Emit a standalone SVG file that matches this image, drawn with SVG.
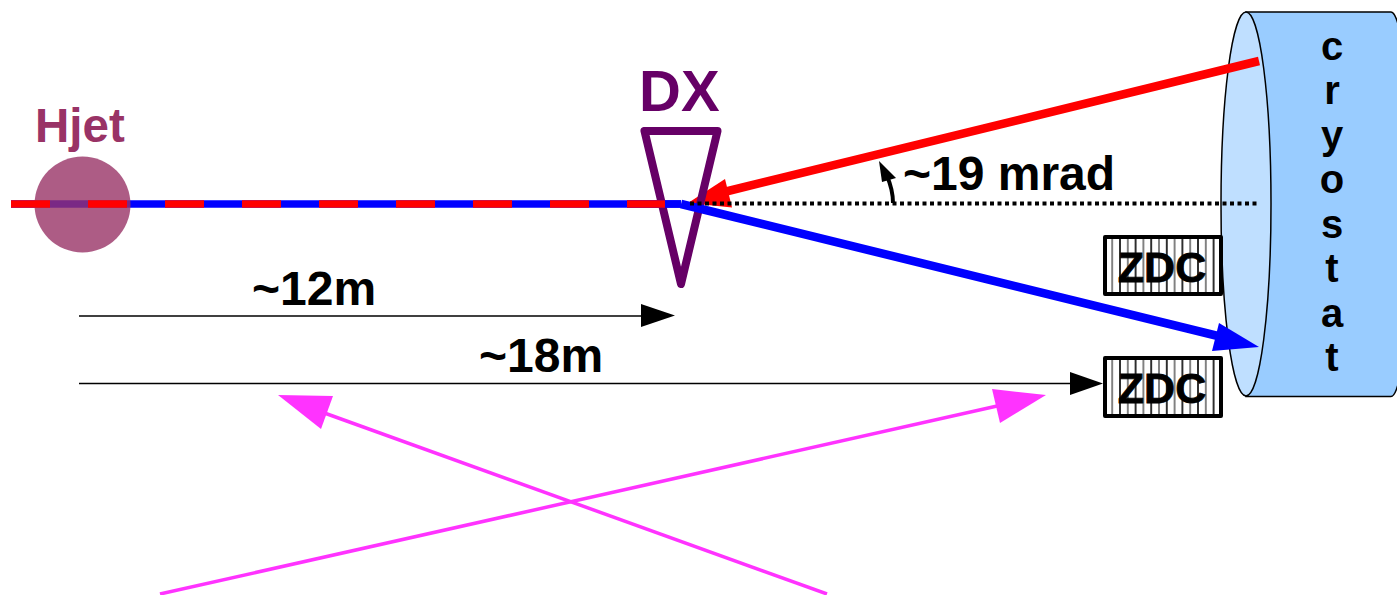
<svg xmlns="http://www.w3.org/2000/svg" width="1397" height="595" viewBox="0 0 1397 595">
<defs>
<style>
text{font-family:"Liberation Sans",Arial,sans-serif;font-weight:bold}
.lab{font-size:48px;fill:#000}
.cry{font-size:40px;fill:#000;text-anchor:middle}
.zdc{font-size:43px;fill:#000;text-anchor:middle;stroke:#000;stroke-width:.8}
.box{fill:none;stroke:#000;stroke-width:4;stroke-linejoin:round}
.thin{stroke:#000;stroke-width:1.3;fill:none}
.mag{stroke:#ff33ff;stroke-width:3.5;fill:none}
</style>
<pattern id="hatch" x="1104.4" y="0" width="15.6" height="20" patternUnits="userSpaceOnUse">
<rect x="7" width="1.6" height="20" fill="#666"/>
<rect x="14.8" width="0.8" height="20" fill="#000"/>
<rect x="0" width="0.8" height="20" fill="#000"/>
</pattern>
</defs>
<g id="cryostat">
<path d="M1246 12H1391A20 192 0 0 1 1391 396.5H1246Z" fill="#99ccff" stroke="#000" stroke-width="1.5"/>
<ellipse cx="1246" cy="204" rx="25" ry="192" fill="#bfdfff" stroke="#000" stroke-width="1.5"/>
<text class="cry" x="1332" y="59.5">c</text>
<text class="cry" x="1332" y="104">r</text>
<text class="cry" x="1332" y="149">y</text>
<text class="cry" x="1332" y="193">o</text>
<text class="cry" x="1332" y="238">s</text>
<text class="cry" x="1332" y="282">t</text>
<text class="cry" x="1332" y="327">a</text>
<text class="cry" x="1332" y="371">t</text>
</g>
<g id="zdc-top">
<rect x="1105" y="237" width="116" height="57" fill="url(#hatch)"/>
<rect class="box" x="1105" y="237" width="116" height="57"/>
<text class="zdc" x="1162" y="281.5">ZDC</text>
</g>
<g id="zdc-bottom">
<rect x="1105" y="358" width="116" height="58" fill="url(#hatch)"/>
<rect class="box" x="1105" y="358" width="116" height="58"/>
<text class="zdc" x="1162" y="402.5">ZDC</text>
</g>
<g id="connectors">
<line x1="11" y1="204" x2="681" y2="204" stroke="#0000ff" stroke-width="7.5"/>
<path d="M1259 61L720 193" stroke="#ff0000" stroke-width="8.5" fill="none"/>
<path d="M688 203L725 179L732 207.5Z" fill="#ff0000"/>
</g>
<g id="hjet">
<circle cx="82.5" cy="204.5" r="48" fill="#993366" fill-opacity="0.8"/>
<text x="35" y="142" font-size="47.5" fill="#993366">Hjet</text>
</g>
<g id="dx">
<path d="M644.5 131H717.5L681 284Z" fill="none" stroke="#660066" stroke-width="8" stroke-linejoin="round"/>
<text x="639" y="111" font-size="58" fill="#660066">DX</text>
</g>
<g id="beams">
<line x1="627" y1="204" x2="681" y2="204" stroke="#0000ff" stroke-width="7.5"/>
<line x1="11" y1="204" x2="665" y2="204" stroke="#ff0000" stroke-width="7.5" stroke-dasharray="39 38"/>
<path d="M681 204L1222 337" stroke="#0000ff" stroke-width="8.5" fill="none"/>
<path d="M1259 347L1212 351L1219 323Z" fill="#0000ff"/>
<line x1="690" y1="203.5" x2="1257" y2="203.5" stroke="#000" stroke-width="4" stroke-dasharray="4 3.5"/>
<path d="M893 203Q893 190 887 176" stroke="#000" stroke-width="4" fill="none"/>
<path d="M879 161L882 182L896 178Z" fill="#000"/>
<line class="thin" x1="79" y1="316" x2="645" y2="316"/>
<path d="M675 315.5L641 304V327Z" fill="#000"/>
<line class="thin" x1="79" y1="383.5" x2="1075" y2="383.5"/>
<path d="M1103 383.5L1070 372V395Z" fill="#000"/>
<line class="mag" x1="827" y1="594" x2="305" y2="406"/>
<path d="M278 395L333 396L321 429Z" fill="#ff33ff"/>
<line class="mag" x1="160" y1="594" x2="1015" y2="402"/>
<path d="M1046 395L1000 423L992 389Z" fill="#ff33ff"/>
</g>
<g id="labels">
<text class="lab" x="903" y="190">~19 mrad</text>
<text class="lab" x="252" y="305">~12m</text>
<text class="lab" x="479" y="372">~18m</text>
</g>
</svg>
